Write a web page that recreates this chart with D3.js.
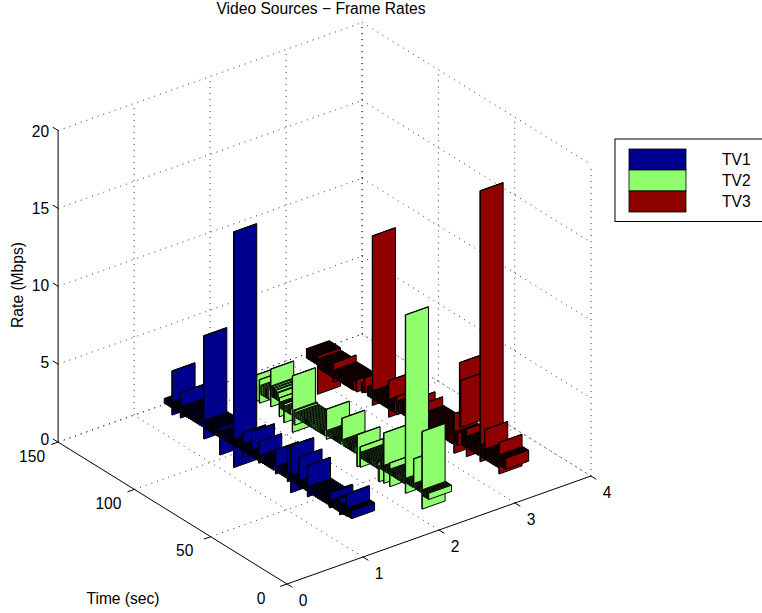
<!DOCTYPE html>
<html>
<head>
<meta charset="utf-8">
<script src="https://cdn.jsdelivr.net/npm/d3@7"></script>
<style>
  html, body { margin: 0; padding: 0; background: #fff; overflow: hidden; }
  text { font-family: "Liberation Sans", Arial, sans-serif; fill: #000; }
</style>
</head>
<body>
<svg width="762" height="613"></svg>
<script>
const xTicks = [0, 1, 2, 3, 4];
const yTicks = [0, 50, 100, 150];
const zTicks = [0, 5, 10, 15, 20];

const seriesNames = ["TV1", "TV2", "TV3"];
const seriesColors = ["#00008f", "#8fff70", "#8f0000"];
const ribbonX = [1.35, 2.21, 3.0];
const ribbonWidth = 0.3;
const smallBarDepth = 0.7;
const bigBarDepth = 0.25;

// time of each frame (sec), top and bottom of its bar (Mbps)
const tv1Time = [147,146,145,144,143.2, 142.4, 141.5,140.5,139.5,138.5,137.6, 136.9,
  135.6,134.2,132.8,131.4,130,128.6,127.2,125.8,124.4,123, 121.6,
  120.2,118.8,117.4,116,114.6,113.2,112, 111.1, 109.8,108.4,107,105.6,104.2,103, 102,
  101,100,99,98,97, 96, 95,94,93,92,91.2, 90.4, 89.4,88.4,87.4,86.5, 85.6,
  84.4,83,81.6,80.2,78.8,77.4,76, 74.6, 73.2,71.8,70.4,69,67.8, 66.8, 65.7, 64.6,
  63.6,62.6,61.6,60.6,59.9, 59.2, 58,57,56,55,54.4, 53.7,
  52.4,51,49.6,48.2,46.8,45.4,44,42.6,41.2,39.8, 39, 38,37,36,35,34,33.2, 32.5,
  31.6,30.7,29.8,28.9, 28.1, 27.2,26.4,25.6,24.8];
const tv1High = [.6,.6,.6,.6,.6, 2.68, .7,.7,.7,.7,.7, 1.62,
  .8,.8,.8,.8,.8,.8,.8,.8,.8,.8, 6.2,
  .85,.85,.85,.85,.85,.85,.85, .69, .8,.8,.8,.8,.8,.8, 14.06,
  .8,.8,.8,.8,.8, 1.52, .85,.85,.85,.85,.85, 1.93, .8,.8,.8,.8, 1.59,
  .75,.75,.75,.75,.75,.75,.75, 1.73, .75,.75,.75,.75,.75, 2.4, .8, 2.6,
  .75,.75,.75,.75,.75, 2.2, .75,.75,.75,.75,.75, 2,
  .7,.7,.7,.7,.7,.7,.7,.7,.7,.7, 1.13, .7,.7,.7,.7,.7,.7, 1.2,
  .8,.8,.8,.8, 1.73, .85,.85,.85,.85];
const tv1Low = [.3,.3,.3,.3,.3, -.14, .3,.3,.3,.3,.3, 0,
  .3,.3,.3,.3,.3,.3,.3,.3,.3,.3, -.42,
  .3,.3,.3,.3,.3,.3,.3, -.81, .3,.3,.3,.3,.3,.3, -1.06,
  .35,.35,.35,.35,.35, -.08, .4,.4,.4,.4,.4, .58, .35,.35,.35,.35, .22,
  .35,.35,.35,.35,.35,.35,.35, .19, .35,.35,.35,.35,.35, .17, .35, -.4,
  .35,.35,.35,.35,.35, .22, .35,.35,.35,.35,.35, 0,
  .3,.3,.3,.3,.3,.3,.3,.3,.3,.3, .17, .3,.3,.3,.3,.3,.3, .12,
  .3,.3,.3,.3, .3, .35,.35,.35,.35];

const tv2Time = [136,135,134,133,132,131, 130, 128, 126.5,125,123.5,122, 120.6,
  119.4,118.2,117,115.8, 115, 113.8,112.6, 111.9, 110.6,109.2,107.8, 106.4, 104.9,
  103.6,102.2,100.8,99.4,98,96.6,95.2,93.8,92.4,91,89.6,88.2,86.8,85.4, 84.1,
  83,81.8,80.6,79.4,78.2,77,75.8,74.8, 73.9, 72.6,71.4,70.2,69,67.8,66.6,65.4, 64, 62,
  60.8,59.6,58.4,57.2,56,54.8,53.6,52.4,51.2,50.4, 49.6, 48.4,47.4, 46.5,
  45.4,44.4,43.4, 42.6, 41.4,40.2,39,37.8,36.6,35.4,34.2,33.2, 32.3,
  31,29.8,28.6,27.6, 26.9, 25.6,24.4,23.2,22.2, 21.4, 20.4,19.6,18.8,18,17.2];
const tv2High = [1,1,1,1,1,1, 1.69, 1.5, 1.2,1.2,1.2,1.2, 2.63,
  1.6,1.55,1.5,1.4, 1.12, .9,.9, .93, .85,.85,.85, 3.06, .92,
  .85,.85,.85,.85,.85,.85,.85,.85,.85,.85,.85,.85,.85,.85, 2.27,
  .95,.95,.95,.95,.95,.95,.95,.95, 2.31, 1,1,1,1,1,1,1, 1.85, 1.2,
  .9,.9,.9,.9,.9,.9,.9,.9,.9,.9, .67, .95,.95, 3.03,
  1,1,1, 1.34, 1,1,1,1,1,1,1,1, 11.47,
  1.05,1.05,1.05,1.05, 2.56, 1.05,1.05,1.05,1.05, 4.65, .95,.95,.95,.95,.95];
const tv2Low = [.4,.4,.4,.4,.4,.4, 0, 0, .6,.6,.6,.6, .22,
  .9,.9,.9,.9, -.08, .5,.5, -.27, .5,.5,.5, -.56, 0,
  .5,.5,.5,.5,.5,.5,.5,.5,.5,.5,.5,.5,.5,.5, .35,
  .6,.6,.6,.6,.6,.6,.6,.6, .81, .6,.6,.6,.6,.6,.6,.6, -.19, -.1,
  .5,.5,.5,.5,.5,.5,.5,.5,.5,.5, -.28, .6,.6, -.19,
  .6,.6,.6, -.17, .6,.6,.6,.6,.6,.6,.6,.6, .03,
  .7,.7,.7,.7, .78, .7,.7,.7,.7, -.32, .55,.55,.55,.55,.55];

const tv3Time = [136,135,134,133,132,131,130, 129.3, 128,127,126,125,124,123,122,121,120, 119,
  117.8,116.6,115.4,114.2,113,111.8,110.6,109.4,108.2,107,105.8, 103.7, 100, 98.3, 96,94.4, 93.3,
  92,90.8,89.6,88.4,87.2,86,84.8,83.6, 82.6, 81.4,80.2,79, 77.5, 76,74.5,73,71.5,70,68.5, 67.3,
  65.5,64, 62.3, 60.8,59.4,58,56.6,55.2,53.8,52.4,51,49.6,48.2,46.8,45.4,44,42.6,41.2, 39.8,
  38.6,37.4, 36.2, 35.5, 34.4,33.4,32.5, 31.7, 30.6,29.5,28.4,27.3,26.2,25.1,24, 22.7,
  21.6,20.8, 19.7, 18.6,17.6,16.6,15.6,14.6,13.6,12.6,11.4, 10.3, 9.2,8.4,7.6,6.8,6];
const tv3High = [1.6,1.6,1.6,1.6,1.6,1.6,1.6, 1.58, 1.45,1.45,1.45,1.45,1.45,1.45,1.45,1.45,1.45, 1.74,
  1.35,1.35,1.35,1.35,1.35,1.35,1.35,1.35,1.35,1.35,1.35, 1.6, 1.6, 2.05, 1.6,1.6, 11.47,
  1.6,1.6,1.6,1.6,1.6,1.6,1.6,1.6, 2.83, 1.7,1.7,1.7, 2.11, 1.9,1.9,1.9,1.9,1.9,1.9, 2.52,
  2,2, 2.5, 2,2,2,2,2,2,2,2,2,2,2,2,2,2,2, 3.3,
  2.2,2.2, 6.8, 5.7, 2.4,2.4,2.4, 2.8, 2.4,2.4,2.4,2.4,2.4,2.4,2.4, 18.65,
  2.4,2.4, 3.5, 2.3,2.3,2.3,2.3,2.3,2.3,2.3,2.3, 3.25, 2.5,2.5,2.5,2.5,2.5];
const tv3Low = [1,1,1,1,1,1,1, -.87, .8,.8,.8,.8,.8,.8,.8,.8,.8, .52,
  .8,.8,.8,.8,.8,.8,.8,.8,.8,.8,.8, .83, 1, 1.1, 1,1, .6,
  1,1,1,1,1,1,1,1, .49, 1,1,1, .95, 1.2,1.2,1.2,1.2,1.2,1.2, 1.2,
  1.3,1.3, 1.2, 1.3,1.3,1.3,1.3,1.3,1.3,1.3,1.3,1.3,1.3,1.3,1.3,1.3,1.3,1.3, .77,
  1.4,1.4, 2.7, 2.7, 1.6,1.6,1.6, 1.05, 1.6,1.6,1.6,1.6,1.6,1.6,1.6, 1.27,
  1.6,1.6, 1.57, 1.6,1.6,1.6,1.6,1.6,1.6,1.6,1.6, 1.24, 1.8,1.8,1.8,1.8,1.8];

const seriesTime = [tv1Time, tv2Time, tv3Time];
const seriesHigh = [tv1High, tv2High, tv3High];
const seriesLow = [tv1Low, tv2Low, tv3Low];

const svg = d3.select("svg");

// MATLAB style fixed view, each data axis has its own screen direction
const originX = 287, originY = 584;
const xToPx = d3.scaleLinear().domain([0, 4]).range([0, 304]);
const xToPy = d3.scaleLinear().domain([0, 4]).range([0, -108]);
const yToPx = d3.scaleLinear().domain([0, 150]).range([0, -228.9]);
const yToPy = d3.scaleLinear().domain([0, 150]).range([0, -141.9]);
const zToPy = d3.scaleLinear().domain([0, 20]).range([0, -311.6]);

const project = (x, y, z) => [
  originX + xToPx(x) + yToPx(y),
  originY + xToPy(x) + yToPy(y) + zToPy(z),
];
const line = d3.line();
const closedLine = d3.line().curve(d3.curveLinearClosed);
const seg = (a, b) => line([project(...a), project(...b)]);

// ==============grid on the floor and the two back walls==============
const gridGroup = svg.append("g")
  .attr("fill", "none")
  .attr("stroke", "#000")
  .attr("stroke-width", 0.8)
  .attr("stroke-dasharray", "1 5");
const gridLines = [];
xTicks.slice(1).forEach((x) => {
  gridLines.push(seg([x, 0, 0], [x, 150, 0]));
  gridLines.push(seg([x, 150, 0], [x, 150, 20]));
});
yTicks.slice(1).forEach((y) => {
  gridLines.push(seg([0, y, 0], [4, y, 0]));
  gridLines.push(seg([4, y, 0], [4, y, 20]));
});
gridLines.push(seg([4, 0, 0], [4, 0, 20]));
zTicks.forEach((z) => {
  gridLines.push(seg([0, 150, z], [4, 150, z]));
  gridLines.push(seg([4, 150, z], [4, 0, z]));
});
gridGroup.selectAll("path").data(gridLines).join("path").attr("d", (d) => d);

// ==============bars, far ribbon first and far frame first=============
const barsGroup = svg.append("g");
[2, 1, 0].forEach((s) => {
  const x0 = ribbonX[s];
  const x1 = x0 + ribbonWidth;
  const frames = seriesTime[s]
    .map((t, i) => ({ t: t, high: seriesHigh[s][i], low: seriesLow[s][i] }))
    .sort((a, b) => b.t - a.t);
  const faces = [];
  frames.forEach((f) => {
    const depth = f.high - f.low > 1 ? bigBarDepth : smallBarDepth;
    const t0 = f.t, t1 = f.t + depth;
    faces.push([[x0, t0, f.high], [x1, t0, f.high], [x1, t1, f.high], [x0, t1, f.high]]);
    faces.push([[x0, t0, f.low], [x0, t1, f.low], [x0, t1, f.high], [x0, t0, f.high]]);
    faces.push([[x0, t0, f.low], [x1, t0, f.low], [x1, t0, f.high], [x0, t0, f.high]]);
  });
  barsGroup.append("g")
    .selectAll("path")
    .data(faces)
    .join("path")
    .attr("d", (d) => closedLine(d.map((p) => project(...p))))
    .attr("fill", seriesColors[s])
    .attr("stroke", "#000")
    .attr("stroke-width", 1)
    .attr("stroke-linejoin", "round");
});

// ==============axes===================================================
const axisGroup = svg.append("g").attr("stroke", "#000").attr("fill", "none");
const axisLine = (a, b) => axisGroup.append("path").attr("d", seg(a, b));
axisLine([0, 0, 0], [4, 0, 0]);
axisLine([0, 0, 0], [0, 150, 0]);
axisLine([0, 150, 0], [0, 150, 20]);
xTicks.forEach((x) => axisLine([x, 0, 0], [x, -3.5, 0]));
yTicks.forEach((y) => axisLine([0, y, 0], [-0.09, y, 0]));
zTicks.forEach((z) => axisLine([0, 150, z], [0, 153.5, z]));

const labelSize = 15.6;
const tickText = (txt, x, y, anchor) =>
  svg.append("text")
    .text(txt)
    .attr("x", x)
    .attr("y", y)
    .attr("text-anchor", anchor || "middle")
    .attr("dominant-baseline", "central")
    .style("font-size", labelSize + "px");

xTicks.forEach((x) => {
  const p = project(x, 0, 0);
  tickText(x, p[0] + 16, p[1] + 16);
});
yTicks.forEach((y) => {
  const p = project(0, y, 0);
  tickText(y, p[0] - 26, p[1] + 14);
});
zTicks.forEach((z) => {
  const p = project(0, 150, z);
  tickText(z, p[0] - 9, p[1] - 3 + z * 0.22, "end");
});

tickText("Time (sec)", 123, 598);
svg.append("text")
  .text("Rate (Mbps)")
  .attr("transform", "translate(17,285) rotate(-90)")
  .attr("text-anchor", "middle")
  .attr("dominant-baseline", "central")
  .style("font-size", labelSize + "px");
tickText("Video Sources \u2212 Frame Rates", 321, 8);

// ==============legend=================================================
const legendGroup = svg.append("g");
legendGroup.append("rect")
  .attr("x", 615).attr("y", 139)
  .attr("width", 170).attr("height", 82.5)
  .attr("fill", "#fff").attr("stroke", "#000");
const legendRow = d3.scaleBand().domain(seriesNames).range([149, 212]);
legendGroup.selectAll("rect.swatch")
  .data(seriesNames)
  .join("rect")
  .attr("class", "swatch")
  .attr("x", 629)
  .attr("y", (d) => legendRow(d))
  .attr("width", 57)
  .attr("height", legendRow.bandwidth())
  .attr("fill", (d, i) => seriesColors[i])
  .attr("stroke", "#000")
  .attr("stroke-width", 0.8);
legendGroup.selectAll("text")
  .data(seriesNames)
  .join("text")
  .text((d) => d)
  .attr("x", 722)
  .attr("y", (d) => legendRow(d) + legendRow.bandwidth() / 2)
  .attr("dominant-baseline", "central")
  .style("font-size", labelSize + "px");
</script>
</body>
</html>
